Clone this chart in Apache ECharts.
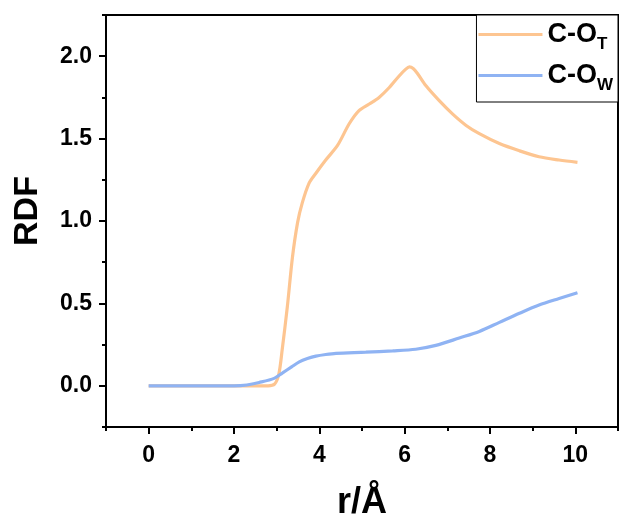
<!DOCTYPE html>
<html>
<head>
<meta charset="utf-8">
<script src="https://cdn.jsdelivr.net/npm/echarts@6/dist/echarts.min.js"></script>
<style>
html,body{margin:0;padding:0;background:#fff;}
#chart{width:619px;height:520px;}
</style>
</head>
<body>
<div id="chart"></div>
<script>
// C-O_T
const otX = [0, 0.5, 1, 1.5, 2, 2.5, 2.8, 2.95, 3.05, 3.13, 3.25, 3.37, 3.49, 3.6, 3.76, 3.92, 4.15, 4.43, 4.7, 4.93, 5.17, 5.4, 5.64, 5.87, 6.02, 6.11, 6.2, 6.3, 6.5, 6.81, 7.12, 7.44, 7.75, 8.22, 8.69, 9.15, 9.62, 10.05];
const otY = [0, 0, 0, 0, 0, 0, 0, 0.01, 0.07, 0.22, 0.48, 0.78, 0.99, 1.11, 1.23, 1.29, 1.37, 1.46, 1.59, 1.67, 1.71, 1.75, 1.81, 1.88, 1.92, 1.935, 1.925, 1.895, 1.82, 1.73, 1.65, 1.58, 1.53, 1.47, 1.426, 1.39, 1.37, 1.356];
// C-O_W
const owX = [0, 0.5, 1, 1.5, 2, 2.3, 2.59, 2.94, 3.13, 3.35, 3.53, 3.72, 3.92, 4.15, 4.39, 5.09, 5.72, 6.26, 6.73, 7.28, 7.75, 8.22, 8.69, 9.15, 9.62, 10.05];
const owY = [0, 0, 0, 0, 0, 0.005, 0.02, 0.045, 0.077, 0.115, 0.145, 0.165, 0.18, 0.19, 0.197, 0.204, 0.212, 0.222, 0.245, 0.29, 0.33, 0.385, 0.44, 0.49, 0.53, 0.565];
const seriesNames = ['C-OT', 'C-OW'];
const subscripts = ['T', 'W'];
const xMajorTicks = [0, 2, 4, 6, 8, 10];
const yMajorTicks = [0, 0.5, 1.0, 1.5, 2.0];

const FONT = '"Liberation Sans", Arial, sans-serif';
const chart = echarts.init(document.getElementById('chart'));
const lineAx = {show: true, onZero: false, lineStyle: {color: '#000', width: 2}};
const lbl = {fontFamily: FONT, fontWeight: 'bold', fontSize: 23, color: '#000'};

chart.setOption({
  animation: false,
  grid: {left: 106, right: 1, top: 15, bottom: 93, outerBoundsMode: 'none', containLabel: false, show: true, borderColor: '#000', borderWidth: 2, backgroundColor: 'transparent'},
  legend: {
    orient: 'vertical', right: 1, top: 15,
    backgroundColor: '#fff',
    borderColor: '#000', borderWidth: 1, borderRadius: 0,
    padding: [6, 5, 8, 2], itemGap: 9,
    itemWidth: 64, itemHeight: 3, icon: 'rect',
    data: seriesNames,
    formatter: function (name) { return '{m|C-O}{s|' + subscripts[seriesNames.indexOf(name)] + '}'; },
    textStyle: {
      fontSize: 12,
      rich: {
        m: {fontFamily: FONT, fontWeight: 'bold', fontSize: 27, color: '#000', lineHeight: 27, verticalAlign: 'top'},
        s: {fontFamily: FONT, fontWeight: 'bold', fontSize: 17, color: '#000', lineHeight: 17, verticalAlign: 'top', padding: [15, 0, 0, 0]}
      }
    }
  },
  xAxis: [{
    type: 'value', min: -1, max: 11, interval: 1, position: 'bottom',
    axisLine: lineAx,
    axisTick: {show: true, length: 4, lineStyle: {color: '#000', width: 2}},
    axisLabel: Object.assign({margin: 17, formatter: function (v) { return xMajorTicks.indexOf(v) >= 0 ? String(v) : ''; }}, lbl),
    splitLine: {show: false},
    name: 'r/Å', nameLocation: 'middle', nameGap: 58,
    nameTextStyle: {fontFamily: FONT, fontWeight: 'bold', fontSize: 36, color: '#000'}
  }, {
    type: 'value', min: -1, max: 11, interval: 1, position: 'bottom', gridIndex: 0,
    axisLine: {show: false, onZero: false},
    axisTick: {show: true, length: 7, customValues: xMajorTicks, lineStyle: {color: '#000', width: 2}},
    axisLabel: {show: false},
    splitLine: {show: false}
  }],
  yAxis: [{
    type: 'value', min: -0.25, max: 2.25, interval: 0.25, position: 'left',
    axisLine: lineAx,
    axisTick: {show: true, length: 4, lineStyle: {color: '#000', width: 2}},
    axisLabel: Object.assign({margin: 14, formatter: function (v) {
      const r = Math.round(v * 100) / 100;
      return yMajorTicks.indexOf(r) >= 0 ? r.toFixed(1) : '';
    }}, lbl),
    splitLine: {show: false},
    name: 'RDF', nameLocation: 'middle', nameGap: 61, nameRotate: 90,
    nameTextStyle: {fontFamily: FONT, fontWeight: 'bold', fontSize: 34, color: '#000', padding: [0, 0, 0, 20]}
  }, {
    type: 'value', min: -0.25, max: 2.25, interval: 0.25, position: 'left', gridIndex: 0,
    axisLine: {show: false, onZero: false},
    axisTick: {show: true, length: 7, customValues: yMajorTicks, lineStyle: {color: '#000', width: 2}},
    axisLabel: {show: false},
    splitLine: {show: false}
  }],
  series: [{
    name: seriesNames[0], type: 'line', xAxisIndex: 0, yAxisIndex: 0,
    data: otX.map((x, i) => [x, otY[i]]),
    symbol: 'none', smooth: 0.3,
    lineStyle: {color: '#fdc591', width: 3.2}, itemStyle: {color: '#fdc591'}
  }, {
    name: seriesNames[1], type: 'line', xAxisIndex: 0, yAxisIndex: 0,
    data: owX.map((x, i) => [x, owY[i]]),
    symbol: 'none', smooth: 0.3,
    lineStyle: {color: '#8fb3f3', width: 3.2}, itemStyle: {color: '#8fb3f3'}
  }]
});
</script>
</body>
</html>
